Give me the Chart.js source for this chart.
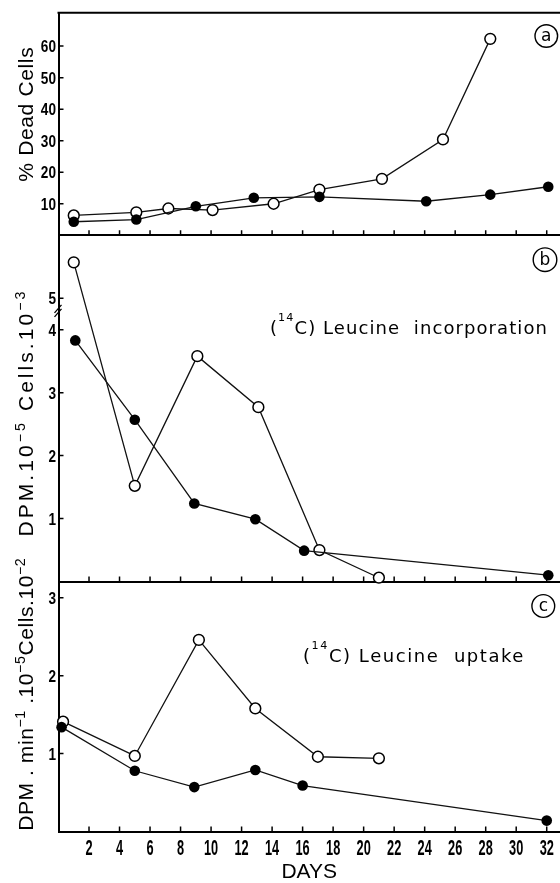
<!DOCTYPE html>
<html>
<head>
<meta charset="utf-8">
<script src="https://cdn.jsdelivr.net/npm/chart.js@4.4.1/dist/chart.umd.min.js"></script>
<style>
html,body{margin:0;padding:0;background:#fff;width:560px;height:883px;overflow:hidden}
canvas.panel{position:absolute;left:0}
</style>
</head>
<body>
<canvas id="ca" class="panel" style="top:0px" width="560" height="245"></canvas>
<canvas id="cb" class="panel" style="top:225px" width="560" height="370"></canvas>
<canvas id="cc" class="panel" style="top:540px" width="560" height="343"></canvas>
<script>
// ---------------- DATA ----------------
const dayTicks = [2,4,6,8,10,12,14,16,18,20,22,24,26,28,30,32];

// (a) % dead cells
const deadOpenDays   = [1, 5.1, 7.2, 10.1, 14.1, 17.1, 21.2, 25.2, 28.3];
const deadOpenPct    = [6.3, 7.3, 8.5, 8.0, 10.0, 14.5, 17.9, 30.4, 62.3];
const deadFilledDays = [1, 5.1, 9.0, 12.8, 17.1, 24.1, 28.3, 32.1];
const deadFilledPct  = [4.3, 5.0, 9.2, 11.9, 12.2, 10.8, 12.9, 15.4];
const deadTicks      = [10, 20, 30, 40, 50, 60];

// (b) [14C] leucine incorporation (DPM.10^-5 cells .10^-3), axis broken between 4 and 5
const incOpenDays    = [1, 5, 9.1, 13.1, 17.1, 21];
const incOpenVal     = [5.57, 1.52, 3.58, 2.77, 0.50, 0.06];
const incFilledDays  = [1.1, 5, 8.9, 12.9, 16.1, 32.1];
const incFilledVal   = [3.83, 2.57, 1.24, 0.99, 0.49, 0.10];
const incTicks       = [1, 2, 3, 4, 5];

// (c) [14C] leucine uptake (DPM.min^-1.10^-5 cells.10^-2)
const upOpenDays     = [0.3, 5, 9.2, 12.9, 17, 21];
const upOpenVal      = [1.41, 0.97, 2.46, 1.58, 0.96, 0.94];
const upFilledDays   = [0.2, 5, 8.9, 12.9, 16, 32];
const upFilledVal    = [1.34, 0.78, 0.57, 0.79, 0.59, 0.14];
const upTicks        = [1, 2, 3];

// broken axis for panel b: values above the break are shifted down by half a unit
const BREAK_SHIFT = 0.5;
const brkB   = v => (v >= 5 ? v - BREAK_SHIFT : v);
const unbrkB = v => (v >= 5 - BREAK_SHIFT ? v + BREAK_SHIFT : v);

// ---------------- HELPERS ----------------
const pts = (xs, ys, f) => xs.map((x, i) => ({ x: x, y: f ? f(ys[i]) : ys[i] }));

function drawRich(ctx, runs, x, baseY, st) {
  const setFont = r => { ctx.font = (st.weight || 'normal') + ' ' + (r.sup ? st.size * st.supScale : st.size) + 'px ' + st.family; };
  ctx.letterSpacing = '0px';
  let w0 = 0, n = 0;
  for (const r of runs) { setFont(r); w0 += ctx.measureText(r.t).width; n += [...r.t].length; }
  const ls = st.target ? (st.target - w0) / n : 0;
  ctx.letterSpacing = ls + 'px';
  const total = w0 + ls * n - ls;
  let cx = st.align === 'center' ? x - total / 2 : x;
  ctx.textBaseline = 'alphabetic';
  ctx.textAlign = 'left';
  for (const r of runs) {
    setFont(r);
    ctx.fillText(r.t, cx, baseY - (r.sup ? st.size * st.supRise : 0));
    cx += ctx.measureText(r.t).width;
  }
  ctx.letterSpacing = '0px';
}

const TITLE_STYLE = { family: '"Liberation Sans", Arial, sans-serif', size: 21, supScale: 0.68, supRise: 0.4, align: 'center' };
const NOTE_STYLE  = { family: '"DejaVu Sans", sans-serif', size: 18, supScale: 0.62, supRise: 0.72 };
const TICK_FONT   = '"Liberation Sans", Arial, sans-serif';

const decor = {
  id: 'decor',
  afterDraw(chart, args, o) {
    const ctx = chart.ctx, a = chart.chartArea, T = o.canvasTop;
    const xs = chart.scales.x, ys = chart.scales.y;
    ctx.save();
    ctx.strokeStyle = '#000';
    ctx.fillStyle = '#000';
    // inward tick marks
    ctx.lineWidth = 1.5;
    ctx.beginPath();
    xs.ticks.forEach(t => { const p = xs.getPixelForValue(t.value); ctx.moveTo(p, a.bottom); ctx.lineTo(p, a.bottom - 5); });
    ys.ticks.forEach(t => { const p = ys.getPixelForValue(t.value); ctx.moveTo(a.left, p); ctx.lineTo(a.left + 5, p); });
    ctx.stroke();
    // condensed tick labels taken from the scales
    ctx.textBaseline = 'alphabetic';
    ctx.textAlign = 'right';
    ctx.font = 'bold 17px ' + TICK_FONT;
    ys.ticks.forEach(t => {
      const p = ys.getPixelForValue(t.value);
      ctx.save(); ctx.translate(a.left - 2.5, p + 6); ctx.scale(0.8, 1); ctx.fillText(t.label, 0, 0); ctx.restore();
    });
    if (o.xLabels) {
      ctx.textAlign = 'center';
      ctx.font = 'bold 22px ' + TICK_FONT;
      xs.ticks.forEach(t => {
        const p = xs.getPixelForValue(t.value);
        ctx.save(); ctx.translate(p, a.bottom + 23.5); ctx.scale(0.58, 1); ctx.fillText(t.label, 0, 0); ctx.restore();
      });
    }
    // top frame line
    if (o.topBorder) {
      ctx.lineWidth = 2;
      ctx.beginPath(); ctx.moveTo(a.left - 1, a.top); ctx.lineTo(a.right, a.top); ctx.stroke();
    }
    // axis break marks
    if (o.breakAt != null) {
      const yb = ys.getPixelForValue(o.breakAt);
      ctx.lineWidth = 1.3;
      ctx.beginPath();
      ctx.moveTo(a.left - 4, yb + 2); ctx.lineTo(a.left + 3, yb - 6);
      ctx.moveTo(a.left - 4, yb + 6); ctx.lineTo(a.left + 3, yb - 2);
      ctx.stroke();
    }
    // panel letter in circle
    if (o.letter) {
      const L = o.letter;
      ctx.lineWidth = 1.4;
      ctx.beginPath(); ctx.arc(L.x, L.y - T, L.r, 0, Math.PI * 2); ctx.stroke();
      ctx.font = '17px "DejaVu Sans", sans-serif';
      ctx.textAlign = 'center'; ctx.textBaseline = 'middle';
      ctx.fillText(L.text, L.x, L.y - T + 0.5);
    }
    // annotation
    if (o.note) {
      drawRich(ctx, o.note.runs, o.note.x, o.note.base - T, Object.assign({}, NOTE_STYLE, { target: o.note.target }));
    }
    // rotated y title
    if (o.yTitle) {
      const Y = o.yTitle;
      ctx.save();
      ctx.translate(Y.base, Y.cy - T);
      ctx.rotate(-Math.PI / 2);
      drawRich(ctx, Y.runs, 0, 0, Object.assign({}, TITLE_STYLE, { target: Y.target }));
      ctx.restore();
    }
    ctx.restore();
  }
};

const AXIS_LEFT = 58.5;
const X_MAX = 32.87;
const LINE_COLOR = '#111';

function openSet(data) {
  return { data: data, showLine: true, borderColor: LINE_COLOR, borderWidth: 1.3,
    pointRadius: 5.4, pointBackgroundColor: '#fff', pointBorderColor: '#000', pointBorderWidth: 1.5, clip: false };
}
function filledSet(data) {
  return { data: data, showLine: true, borderColor: LINE_COLOR, borderWidth: 1.3,
    pointRadius: 5.3, pointBackgroundColor: '#000', pointBorderColor: '#000', pointBorderWidth: 0, clip: false };
}

function makePanel(id, p) {
  const cv = document.getElementById(id);
  const H = cv.height;
  const areaBottomLocal = p.areaBottom - p.canvasTop;
  const xHeight = p.xLabels ? H - areaBottomLocal : 0;
  const padBottom = p.xLabels ? 0 : H - areaBottomLocal;
  return new Chart(cv, {
    type: 'scatter',
    data: { datasets: [filledSet(p.filled), openSet(p.open)] },
    plugins: [decor],
    options: {
      responsive: false, animation: false, events: [],
      layout: { autoPadding: false, padding: { left: 0, right: 0, top: p.areaTop - p.canvasTop, bottom: padBottom } },
      plugins: { legend: { display: false }, tooltip: { enabled: false },
        decor: Object.assign({ canvasTop: p.canvasTop, xLabels: !!p.xLabels }, p.decor) },
      scales: {
        x: {
          type: 'linear', min: 0, max: X_MAX,
          grid: { display: false, drawTicks: false },
          border: { display: true, color: '#000', width: 2 },
          afterBuildTicks: s => { s.ticks = dayTicks.map(v => ({ value: v })); },
          afterFit: s => { s.height = xHeight; s.paddingLeft = 0; s.paddingRight = 0; },
          ticks: { display: false, autoSkip: false },
          title: p.xLabels ? { display: true, text: 'DAYS', color: '#000', padding: 0,
            font: { family: '"Liberation Sans", Arial, sans-serif', size: 21, lineHeight: 1 } } : { display: false }
        },
        y: {
          type: 'linear', min: p.yMin, max: p.yMax,
          grid: { display: false, drawTicks: false },
          border: { display: true, color: '#000', width: 2 },
          afterBuildTicks: s => { s.ticks = p.yTicks.map(v => ({ value: p.yMap ? p.yMap(v) : v })); },
          afterFit: s => { s.width = AXIS_LEFT; s.paddingTop = 0; s.paddingBottom = 0; },
          ticks: { display: false, autoSkip: false,
            callback: v => String(Math.round((p.yUnmap ? p.yUnmap(v) : v) * 100) / 100) }
        }
      }
    }
  });
}

// panel a
makePanel('ca', {
  canvasTop: 0, areaTop: 12.7, areaBottom: 235.3, yMin: 0, yMax: 70.6, yTicks: deadTicks,
  open: pts(deadOpenDays, deadOpenPct), filled: pts(deadFilledDays, deadFilledPct),
  decor: {
    topBorder: true,
    letter: { text: 'a', x: 546.3, y: 36, r: 11.3 },
    yTitle: { runs: [{ t: '% Dead Cells' }], base: 33, cy: 114.5, target: 135 }
  }
});

// panel b
makePanel('cb', {
  canvasTop: 225, areaTop: 235.3, areaBottom: 581.5, yMin: 0, yMax: 5.5, yTicks: incTicks,
  yMap: brkB, yUnmap: unbrkB,
  open: pts(incOpenDays, incOpenVal, brkB), filled: pts(incFilledDays, incFilledVal, brkB),
  decor: {
    breakAt: 4.3,
    letter: { text: 'b', x: 545, y: 259.7, r: 11.8 },
    note: { runs: [{ t: '(' }, { t: '14', sup: true }, { t: 'C) Leucine  incorporation' }], x: 270, base: 334, target: 278 },
    yTitle: { runs: [{ t: 'DPM.10' }, { t: '\u2212' + '5', sup: true }, { t: ' Cells.10' }, { t: '\u2212' + '3', sup: true }], base: 33, cy: 414, target: 248 }
  }
});

// panel c
makePanel('cc', {
  canvasTop: 540, areaTop: 581.5, areaBottom: 831.5, yMin: 0, yMax: 3.21, yTicks: upTicks, xLabels: true,
  open: pts(upOpenDays, upOpenVal), filled: pts(upFilledDays, upFilledVal),
  decor: {
    letter: { text: 'c', x: 543.3, y: 606, r: 11.4 },
    note: { runs: [{ t: '(' }, { t: '14', sup: true }, { t: 'C) Leucine  uptake' }], x: 303, base: 661.7, target: 222 },
    yTitle: { runs: [{ t: 'DPM . min' }, { t: '\u2212' + '1', sup: true }, { t: ' .10' }, { t: '\u2212' + '5', sup: true }, { t: 'Cells.10' }, { t: '\u2212' + '2', sup: true }], base: 33, cy: 694.5, target: 273 }
  }
});
</script>
</body>
</html>
